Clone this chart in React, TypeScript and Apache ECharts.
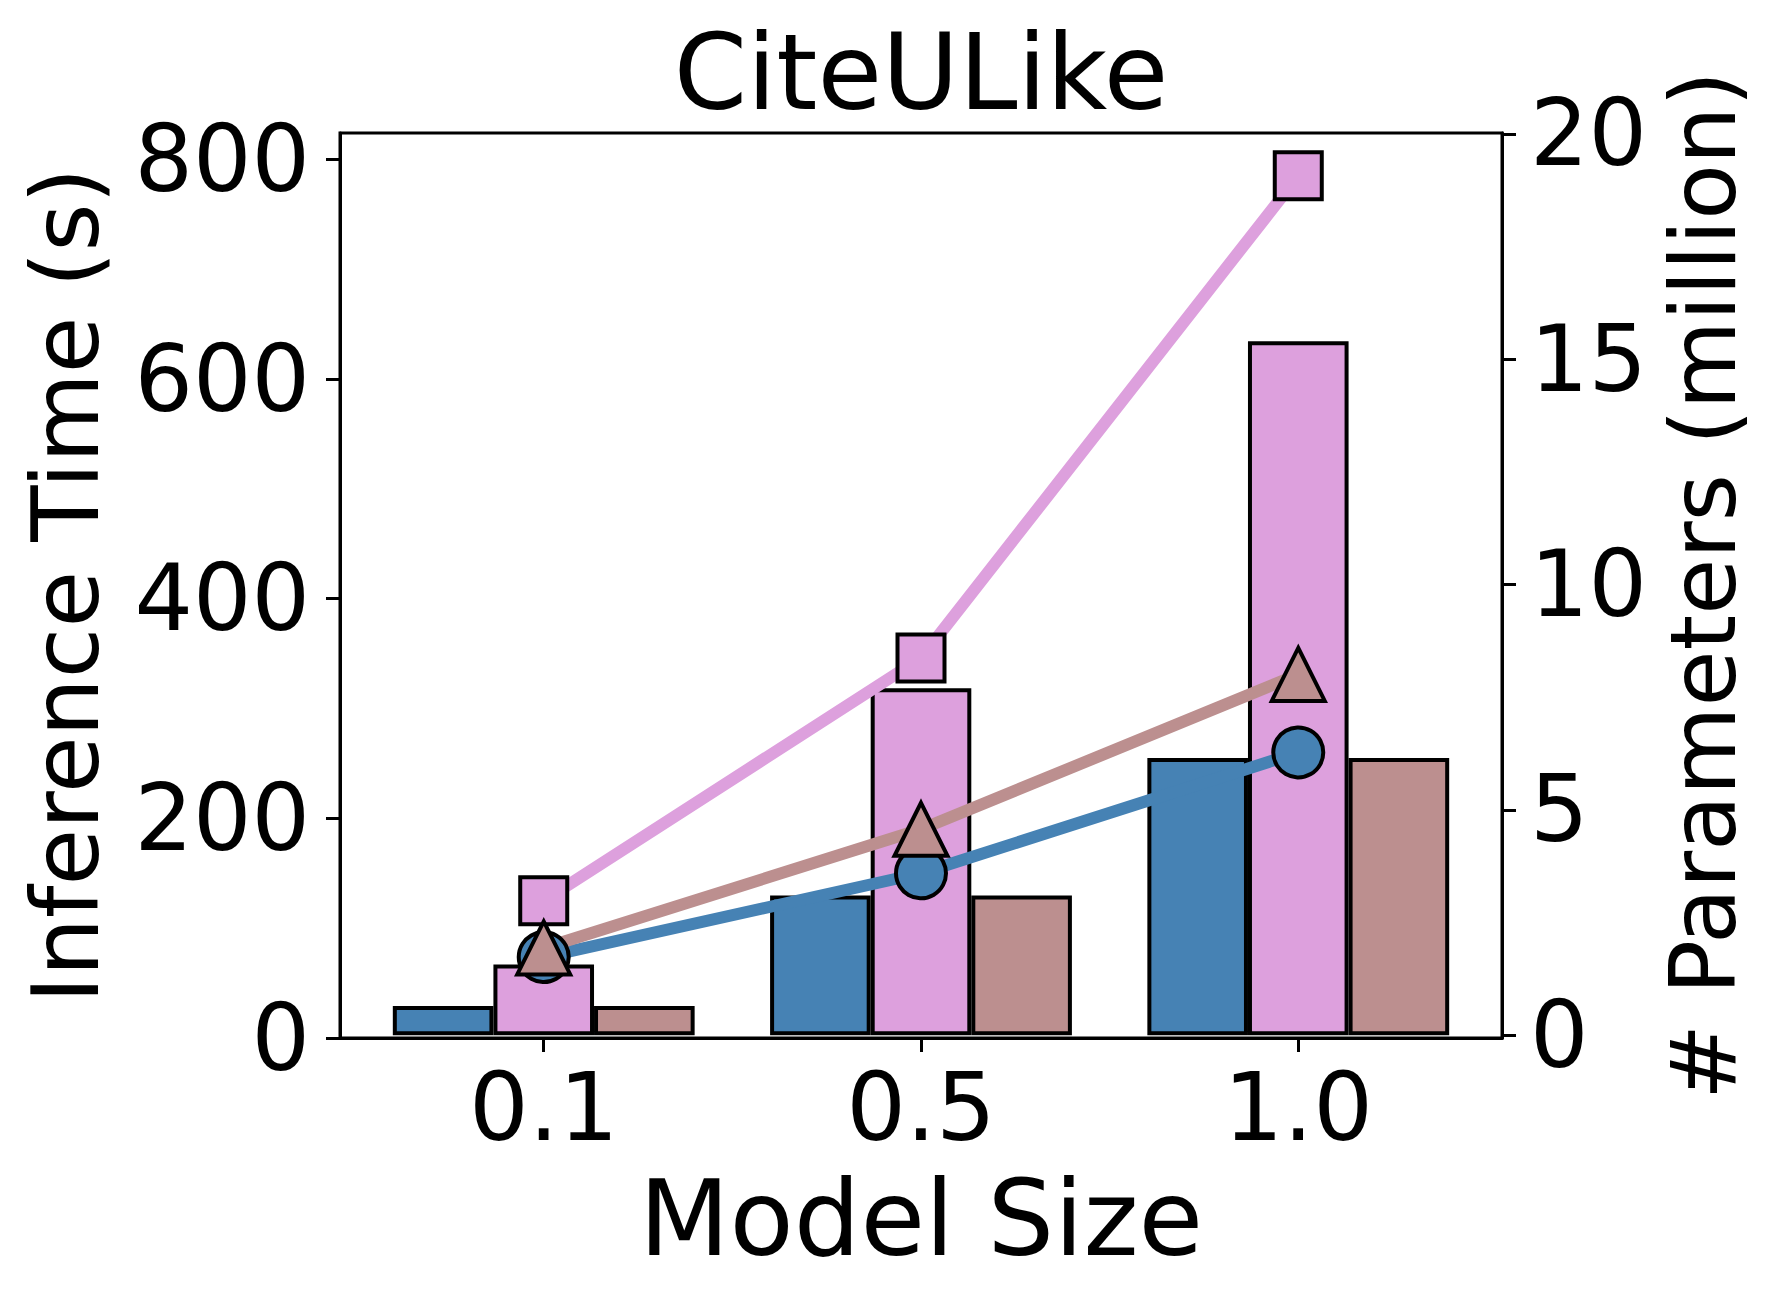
import React, { useEffect, useRef } from "react";
import * as echarts from "echarts";

const categories = ["0.1", "0.5", "1.0"];
// Inference time (s) – left axis, lines
const timeBlue = [73.7, 150, 260];
const timePink = [125, 346, 785];
const timeBrown = [82, 190, 331];
// # Parameters (million) – right axis, bars
const paramBlue = [0.65, 3.1, 6.15];
const paramPink = [1.57, 7.7, 15.4];
const paramBrown = [0.65, 3.1, 6.15];
const leftTicks = [0, 200, 400, 600, 800];
const rightTicks = [0, 5, 10, 15, 20];

const BLUE = "#4682B4";
const PINK = "#DDA0DD";
const BROWN = "#BC8F8F";
const FONT = "DejaVu Sans";

const W = 1782;
const H = 1304;
const GL = 340;
const GR = 1502;
const GT = 133;
const GB = 1038;
const XMIN = -0.54;
const XMAX = 2.54;
const BARW = 0.8 / 3;

export default function App() {
  const ref = useRef<HTMLDivElement>(null);
  useEffect(() => {
    if (!ref.current) return;
    const chart = echarts.init(ref.current, undefined, { renderer: "svg" });
    const pxPerUnit = (GR - GL) / (XMAX - XMIN);
    const barPx = BARW * pxPerUnit;
    const idx = categories.map((_, i) => i);
    const barData = (vals: number[], off: number) => vals.map((v, i) => [idx[i] + off, v]);
    const lineData = (vals: number[]) => vals.map((v, i) => [idx[i], v]);
    const barSeries = (name: string, vals: number[], off: number, color: string) => ({
      name,
      type: "bar",
      xAxisIndex: 0,
      yAxisIndex: 1,
      barWidth: barPx,
      barGap: "-100%",
      data: barData(vals, off),
      itemStyle: { color, borderColor: "#000", borderWidth: 4 },
      z: 2,
    });
    const lineSeries = (name: string, vals: number[], symbol: string, size: number, color: string) => ({
      name,
      type: "line",
      xAxisIndex: 0,
      yAxisIndex: 0,
      data: lineData(vals),
      symbol,
      symbolSize: size,
      showAllSymbol: true,
      lineStyle: { color, width: 12 },
      itemStyle: { color, borderColor: "#000", borderWidth: 4 },
      z: 3,
    });
    const tickLabel = { fontFamily: FONT, fontSize: 92, color: "#000" };
    chart.setOption({
      animation: false,
      backgroundColor: "#fff",
      title: {
        text: "CiteULike",
        left: (GL + GR) / 2,
        textAlign: "center",
        top: 20,
        padding: 0,
        textStyle: { fontFamily: FONT, fontSize: 105, fontWeight: "normal", color: "#000" },
      },
      grid: {
        left: GL,
        right: W - GR,
        top: GT,
        bottom: H - GB,
        show: true,
        borderColor: "#000",
        borderWidth: 3,
        backgroundColor: "transparent",
        containLabel: false,
      },
      xAxis: {
        type: "value",
        min: XMIN,
        max: XMAX,
        name: "Model Size",
        nameLocation: "middle",
        nameGap: 128,
        nameTextStyle: { fontFamily: FONT, fontSize: 105, color: "#000" },
        axisLine: { show: true, onZero: false, lineStyle: { color: "#000", width: 3 } },
        axisTick: { show: true, length: 14, lineStyle: { color: "#000", width: 3 }, customValues: idx },
        axisLabel: {
          ...tickLabel,
          fontSize: 94,
          margin: 22,
          customValues: idx,
          formatter: (v: number) => categories[Math.round(v)] ?? "",
        },
        splitLine: { show: false },
      },
      yAxis: [
        {
          type: "value",
          position: "left",
          min: 0,
          max: 824,
          name: "Inference Time (s)",
          nameLocation: "middle",
          nameRotate: 90,
          nameGap: 228,
          nameTextStyle: { fontFamily: FONT, fontSize: 92, color: "#000" },
          axisLine: { show: true, onZero: false, lineStyle: { color: "#000", width: 3 } },
          axisTick: { show: true, length: 14, lineStyle: { color: "#000", width: 3 }, customValues: leftTicks },
          axisLabel: { ...tickLabel, margin: 30, customValues: leftTicks },
          splitLine: { show: false },
        },
        {
          type: "value",
          position: "right",
          min: -0.06,
          max: 20.02,
          name: "# Parameters (million)",
          nameLocation: "middle",
          nameRotate: 90,
          nameGap: 153,
          nameTextStyle: { fontFamily: FONT, fontSize: 91, color: "#000" },
          axisLine: { show: true, onZero: false, lineStyle: { color: "#000", width: 3 } },
          axisTick: { show: true, length: 14, lineStyle: { color: "#000", width: 3 }, customValues: rightTicks },
          axisLabel: { ...tickLabel, margin: 28, customValues: rightTicks },
          splitLine: { show: false },
        },
      ],
      series: [
        barSeries("Params A", paramBlue, -BARW, BLUE),
        barSeries("Params B", paramPink, 0, PINK),
        barSeries("Params C", paramBrown, BARW, BROWN),
        lineSeries("Time A", timeBlue, "circle", 50, BLUE),
        lineSeries("Time B", timePink, "rect", 47, PINK),
        lineSeries("Time C", timeBrown, "triangle", 53, BROWN),
      ],
    });
    return () => chart.dispose();
  }, []);
  return (
    <div
      ref={ref}
      style={{ position: "absolute", left: 0, top: 0, width: W, height: H, background: "#fff" }}
    />
  );
}
